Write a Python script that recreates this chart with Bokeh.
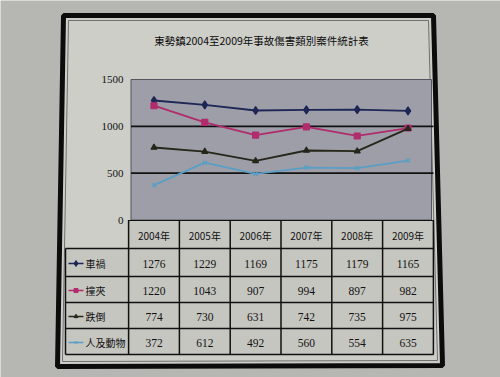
from bokeh.plotting import figure
from bokeh.models import Range1d
from bokeh.core.properties import value
from bokeh.embed import file_html
from bokeh.resources import INLINE

# ---------------- data ----------------
title_text = "東勢鎮2004至2009年事故傷害類別案件統計表"
years = ["2004年", "2005年", "2006年", "2007年", "2008年", "2009年"]
series_names = ["車禍", "撞夾", "跌倒", "人及動物"]
car = [1276, 1229, 1169, 1175, 1179, 1165]
crush = [1220, 1043, 907, 994, 897, 982]
fall = [774, 730, 631, 742, 735, 975]
animal = [372, 612, 492, 560, 554, 635]
yticks = [0, 500, 1000, 1500]

# ---------------- layout / style ----------------
W, H = 500, 377
OFF = 0
OUT_BG = "#b6b6b2"
IN_BG = "#cecec9"
PLOT_BG = "#9d9ea8"
CELL_BG = "#c6c6c1"
GRID = "#111111"
CJK = value("Noto Sans CJK TC")
NUM = value("Liberation Serif")

X0, DX = 153.5, 50.8          # page x of first category centre, spacing
Y0, YTOP = 219.5, 79.0        # page y of value 0 and of top tick
PLOT_L, PLOT_R = 130.5, 431.0
TAB_L, TAB_R = 65.0, 433.0
HEAD_B = 248.0
ROW_EDGES = [248.0, 276.0, 302.0, 328.0, 354.0]

colors = ["#1e2656", "#b02c6c", "#26261a", "#5a9ec6"]
markers = ["diamond", "square", "triangle", "x"]
msizes = [8, 6, 6, 6]
series = [car, crush, fall, animal]

ymax = yticks[-1]
KY = (Y0 - YTOP) / ymax

p = figure(width=W, height=H,
           x_range=Range1d(OFF, OFF + W), y_range=Range1d(OFF + H, OFF),
           output_backend="svg", toolbar_location=None, min_border=0,
           x_axis_location=None, y_axis_location=None,
           background_fill_color=OUT_BG, border_fill_color=OUT_BG,
           outline_line_color=None)
p.grid.visible = False
p.extra_x_ranges = {"idx": Range1d((OFF - X0) / DX, (OFF + W - X0) / DX)}
p.extra_y_ranges = {"val": Range1d((Y0 - (OFF + H)) / KY, (Y0 - OFF) / KY)}

# slide frame (slightly skewed like the photo)
p.patch([63, 433, 442, 57], [15, 15, 365, 366], fill_color=IN_BG,
        line_color="#0c0c0c", line_width=5)
p.patch([68, 428, 437, 62], [20, 20, 360, 361], fill_color=None,
        line_color="#707070", line_width=1)

# title
p.text(x=[261], y=[40], text=[title_text], text_font=CJK,
       text_font_size="10.5px", text_align="center", text_baseline="middle",
       text_color="#0a0a0a")

# plot area
p.quad(left=[PLOT_L], right=[PLOT_R], top=[YTOP], bottom=[Y0],
       fill_color=PLOT_BG, line_color="#555560", line_width=1)
# grid lines
gy = [t for t in yticks if 0 < t < ymax]
p.segment(x0=[PLOT_L] * len(gy), x1=[PLOT_R + 2] * len(gy), y0=gy, y1=gy,
          y_range_name="val", line_color=GRID, line_width=1.6)
# y tick labels
p.text(x=[123] * len(yticks), y=yticks, text=[str(t) for t in yticks],
       y_range_name="val", text_font=NUM, text_font_size="11px",
       text_align="right", text_baseline="middle", text_color="#111111")

# table backgrounds
n = len(years)
idx = list(range(n))
p.quad(left=[-0.5], right=[n - 0.5], top=[Y0], bottom=[HEAD_B],
       x_range_name="idx", fill_color=CELL_BG, line_color=None)
p.quad(left=[TAB_L], right=[TAB_R], top=[ROW_EDGES[0]], bottom=[ROW_EDGES[-1]],
       fill_color=CELL_BG, line_color=None)
# table lines
p.segment(x0=[TAB_L] * len(ROW_EDGES), x1=[TAB_R] * len(ROW_EDGES),
          y0=ROW_EDGES, y1=ROW_EDGES, line_color=GRID, line_width=1.5)
p.segment(x0=[-0.5], x1=[n - 0.5], y0=[Y0 + 0.5], y1=[Y0 + 0.5],
          x_range_name="idx", line_color=GRID, line_width=1.2)
p.segment(x0=[TAB_L], x1=[TAB_L], y0=[ROW_EDGES[0]], y1=[ROW_EDGES[-1]],
          line_color=GRID, line_width=1.5)
edges = [i - 0.5 for i in range(n + 1)]
p.segment(x0=edges, x1=edges, y0=[Y0] * len(edges), y1=[ROW_EDGES[-1]] * len(edges),
          x_range_name="idx", line_color=GRID, line_width=1.5)

# header texts
p.text(x=idx, y=[(Y0 + HEAD_B) / 2 + 1] * n, text=years, x_range_name="idx",
       text_font=CJK, text_font_size="10px", text_align="center",
       text_baseline="middle", text_color="#111111")

# rows: legend key + values
for r, (name, vals) in enumerate(zip(series_names, series)):
    yc = (ROW_EDGES[r] + ROW_EDGES[r + 1]) / 2 + 1
    p.segment(x0=[68], x1=[83], y0=[yc], y1=[yc], line_color=colors[r], line_width=1.6)
    p.scatter(x=[75.5], y=[yc], marker=markers[r], size=msizes[r] - 2,
              fill_color=colors[r], line_color=colors[r])
    p.text(x=[85], y=[yc], text=[name], text_font=CJK, text_font_size="10px",
           text_align="left", text_baseline="middle", text_color="#111111")
    p.text(x=idx, y=[yc] * n, text=[str(v) for v in vals], x_range_name="idx",
           text_font=NUM, text_font_size="11.5px", text_align="center",
           text_baseline="middle", text_color="#111111")

# series lines
for r, vals in enumerate(series):
    p.line(x=idx, y=vals, x_range_name="idx", y_range_name="val",
           line_color=colors[r], line_width=1.8)
    p.scatter(x=idx, y=vals, x_range_name="idx", y_range_name="val",
              marker=markers[r], size=msizes[r], fill_color=colors[r],
              line_color=colors[r], line_width=1.2)

open("out.html", "w").write(file_html(p, INLINE))
